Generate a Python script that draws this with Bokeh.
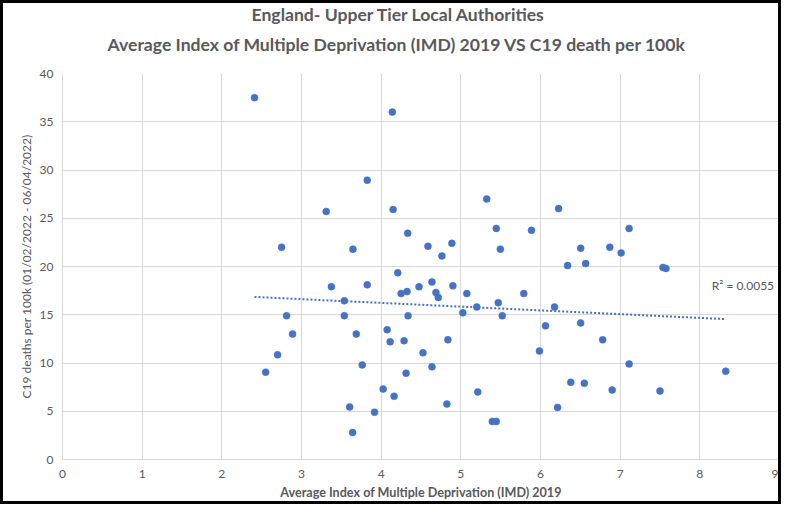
import numpy as np
from bokeh.plotting import figure
from bokeh.models import Label, Title, FixedTicker, Range1d
from bokeh.embed import file_html
from bokeh.resources import INLINE

# Data
imd = [2.41, 4.14, 3.825, 5.325, 3.31, 4.15, 6.227, 2.75, 3.646, 4.333,
       4.5875, 4.8875, 4.7625, 4.208, 3.375, 3.825, 4.6375, 4.475, 4.9, 4.25,
       4.325, 4.6875, 4.7167, 5.075, 3.5375, 5.2, 5.025, 2.8125, 3.5375, 4.3375,
       5.445, 5.887, 7.1125, 5.496, 6.504, 6.87, 7.0125, 6.34, 6.567, 7.5375,
       7.575, 5.79, 5.47, 6.176, 5.52, 2.8875, 2.7, 2.55, 3.6875, 3.7625,
       4.075, 4.1125, 4.2875, 4.8375, 4.525, 4.6375, 4.3125, 4.025, 4.1625, 4.825,
       5.2125, 3.604, 3.9167, 3.6417, 6.063, 6.504, 6.78, 5.987, 7.1125, 8.325,
       6.38, 6.55, 6.9, 7.5, 6.214, 5.395, 5.445]
deaths = [37.5, 36.0, 28.95, 27.0, 25.7, 25.9, 26.0, 22.0, 21.8, 23.45,
          22.1, 22.4, 21.1, 19.35, 17.9, 18.1, 18.4, 17.9, 18.0, 17.2,
          17.4, 17.3, 16.8, 17.2, 16.45, 15.8, 15.2, 14.9, 14.9, 14.9,
          23.95, 23.75, 23.95, 21.8, 21.9, 22.0, 21.4, 20.1, 20.3, 19.9,
          19.8, 17.2, 16.25, 15.8, 14.9, 13.0, 10.85, 9.05, 13.0, 9.8,
          13.45, 12.2, 12.3, 12.4, 11.05, 9.6, 8.95, 7.3, 6.55, 5.75,
          7.0, 5.45, 4.9, 2.8, 13.85, 14.15, 12.4, 11.25, 9.9, 9.15,
          8.0, 7.9, 7.2, 7.1, 5.4, 3.95, 3.95]
x_ticks = [0, 1, 2, 3, 4, 5, 6, 7, 8, 9]
y_ticks = [0, 5, 10, 15, 20, 25, 30, 35, 40]
r2_text = "R² = 0.0055"

title1 = "England- Upper Tier Local Authorities"
title2 = "Average Index of Multiple Deprivation (IMD) 2019 VS C19 death per 100k"
x_label = "Average Index of Multiple Deprivation (IMD) 2019"
y_label = "C19 deaths per 100k (01/02/2022 - 06/04/2022)"

BLUE = "#4472C4"
GRAY = "#595959"
GRID = "#d9d9d9"
FONT = "Lato"

p = figure(width=781, height=504, output_backend="svg", toolbar_location=None, title=None,
           x_range=Range1d(0, 9), y_range=Range1d(0, 40),
           min_border_left=59, min_border_right=5, min_border_top=70, min_border_bottom=48)
p.styles = {"border": "3px solid black"}
p.outline_line_color = None
p.background_fill_color = "white"
p.border_fill_color = "white"

# Two-line chart title (second line is nearest to the plot area)
p.add_layout(Title(text=title2, align="left", offset=45, text_font=FONT,
                   text_font_size="17.6px", text_font_style="bold", text_color=GRAY,
                   vertical_align="top", standoff=33), "above")
p.add_layout(Title(text=title1, align="left", offset=189, text_font=FONT,
                   text_font_size="17.6px", text_font_style="bold", text_color=GRAY,
                   vertical_align="top", standoff=-19), "above")

for ax in (p.xaxis, p.yaxis):
    ax.axis_line_color = GRID
    ax.major_tick_line_color = None
    ax.minor_tick_line_color = None
    ax.major_tick_out = 0
    ax.major_tick_in = 0
    ax.minor_tick_out = 0
    ax.minor_tick_in = 0
    ax.major_label_text_color = GRAY
    ax.major_label_text_font = FONT
    ax.major_label_text_font_size = "12px"
    ax.axis_label_text_color = GRAY
    ax.axis_label_text_font = FONT

p.xaxis.ticker = FixedTicker(ticks=x_ticks)
p.yaxis.ticker = FixedTicker(ticks=y_ticks)
p.xaxis.axis_label = x_label
p.xaxis.axis_label_text_font_style = "bold"
p.xaxis.axis_label_text_font_size = "12.6px"
p.xaxis.major_label_standoff = 10
p.xaxis.axis_label_standoff = 4
p.yaxis.axis_label = y_label
p.yaxis.axis_label_text_font_style = "normal"
p.yaxis.axis_label_text_font_size = "12px"
p.yaxis.major_label_standoff = 9
p.yaxis.axis_label_standoff = 3

p.xgrid.grid_line_color = GRID
p.ygrid.grid_line_color = GRID
p.xgrid.ticker = FixedTicker(ticks=x_ticks)
p.ygrid.ticker = FixedTicker(ticks=y_ticks)

# Linear trendline (least squares over the data)
slope, intercept = np.polyfit(imd, deaths, 1)
tx = [min(imd), max(imd)]
ty = [slope * v + intercept for v in tx]
p.line(tx, ty, line_color=BLUE, line_width=2, line_dash="2 2")

p.scatter(imd, deaths, size=7, fill_color=BLUE, line_color=BLUE, line_width=0.5)

p.add_layout(Label(x=8.15, y=18.0, text=r2_text, text_font=FONT, text_font_size="12px",
                   text_color=GRAY, text_baseline="middle", text_align="left"))

open("out.html", "w").write(file_html(p, INLINE))
